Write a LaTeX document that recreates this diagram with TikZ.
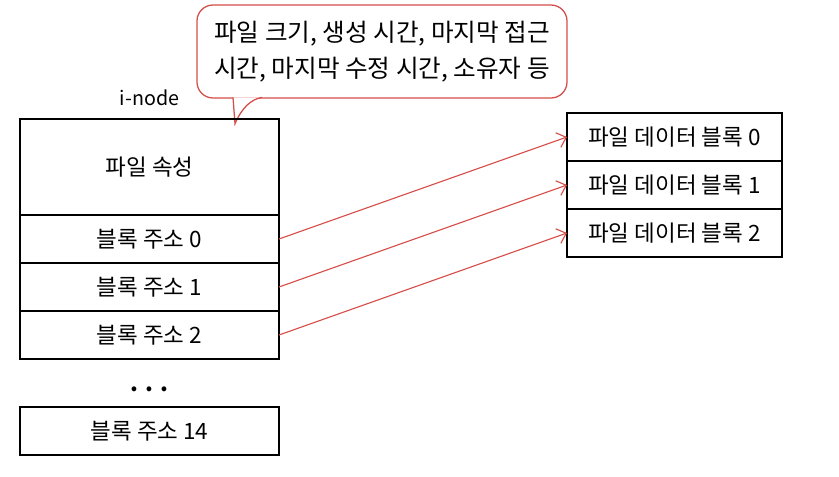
\documentclass[tikz,border=0pt]{standalone}
\usepackage{fontspec}
\setmainfont{Noto Sans CJK KR}
\usetikzlibrary{positioning,arrows.meta}
\definecolor{pen}{RGB}{214,78,74}

\tikzset{
cell/.style={draw, line width=1pt, minimum width=6.475cm, minimum height=1.2cm, inner sep=0pt, outer sep=0pt, font=\fontsize{16}{19}\selectfont},
dcell/.style={cell, minimum width=5.375cm},
ptr/.style={draw=pen, line width=0.8pt, -{Straight Barb[length=6pt,width=11pt]}}
}

\begin{document}
\begin{tikzpicture}
\useasboundingbox (0,0) rectangle (20.975,11.925);
\node[draw=pen, line width=0.9pt, rounded corners=0.4cm, fill=white, align=center, minimum width=9.25cm, minimum height=2.325cm, font=\fontsize{17.5}{26}\selectfont] at (9.55,10.6375) (note) {파일 크기, 생성 시간, 마지막 접근\\시간, 마지막 수정 시간, 소유자 등};
\coordinate (tip) at (5.875,8.83);
\draw[draw=pen, fill=white, line width=0.9pt] (5.825,9.49) -- (tip) .. controls (6.05,9.25) and (6.3,9.45) .. (6.55,9.49);

\node[cell, minimum height=2.4cm, label={[font=\fontsize{14}{16}\selectfont, label distance=6pt]north:i-node}] at (3.7375,7.75) (attr) {파일 속성};
\node[cell, below=0pt of attr] (a0) {블록 주소 0};
\node[cell, below=0pt of a0] (a1) {블록 주소 1};
\node[cell, below=0pt of a1] (a2) {블록 주소 2};
\node[font=\fontsize{16}{19}\selectfont\bfseries] at (3.7375,2.2) (dots) {. . .};
\node[cell] at (3.7375,1.15) (a14) {블록 주소 14};

\node[dcell] at (16.8625,8.5) (d0) {파일 데이터 블록 0};
\node[dcell, below=0pt of d0] (d1) {파일 데이터 블록 1};
\node[dcell, below=0pt of d1] (d2) {파일 데이터 블록 2};

\foreach \i in {0,1,2}{
\draw[ptr] (a\i.east) -- (d\i.west);
}
\end{tikzpicture}
\end{document}
